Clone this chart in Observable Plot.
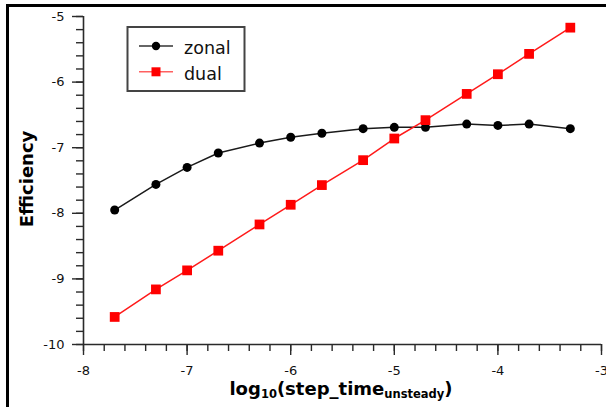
<!DOCTYPE html>
<html>
<head>
<meta charset="utf-8">
<script src="https://cdn.jsdelivr.net/npm/d3@7"></script>
<script src="https://cdn.jsdelivr.net/npm/@observablehq/plot@0.6"></script>
<style>
  html, body { margin: 0; padding: 0; background: #fff; }
  #chart { position: relative; width: 606px; height: 407px; overflow: hidden; }
  #chart svg g[aria-label$="tick label"] text { font-size: 13px; fill: #111; }
</style>
</head>
<body>
<div id="chart"></div>
<script>
// ---- data ----
const xValues = [-7.699, -7.301, -7, -6.699, -6.301, -6, -5.699, -5.301, -5, -4.699, -4.301, -4, -3.699, -3.301];
const zonalValues = [-7.95, -7.56, -7.30, -7.08, -6.93, -6.84, -6.78, -6.71, -6.69, -6.69, -6.64, -6.66, -6.64, -6.71];
const dualValues = [-9.58, -9.16, -8.87, -8.57, -8.17, -7.87, -7.57, -7.19, -6.86, -6.58, -6.18, -5.88, -5.57, -5.17];
const seriesNames = ["zonal", "dual"];
const xTicks = [-8, -7, -6, -5, -4, -3];
const yTicks = [-10, -9, -8, -7, -6, -5];
const xLabel = ["log", "10", "(step_time", "unsteady", ")"];
const yLabel = "Efficiency";

const xMinor = d3.range(0, 26).map(i => +(-8 + i * 0.2).toFixed(1));
const yMinor = d3.range(0, 26).map(i => +(-10 + i * 0.2).toFixed(1));

const zonalRows = xValues.map((x, i) => ({x, y: zonalValues[i]}));
const dualRows = xValues.map((x, i) => ({x, y: dualValues[i]}));

const axisColor = "#2a2a2a";
const font = "'DejaVu Sans', Verdana, sans-serif";

const plot = Plot.plot({
  width: 606,
  height: 407,
  marginLeft: 83,
  marginRight: 5,
  marginTop: 16,
  marginBottom: 63,
  style: {fontFamily: font, fontSize: "13px", color: "#111", background: "#fff", overflow: "hidden"},
  x: {domain: [-8, -3]},
  y: {domain: [-10, -5]},
  marks: [
    Plot.axisX(xMinor, {tickSize: 7, tickFormat: () => "", stroke: axisColor, strokeWidth: 1.4, label: null}),
    Plot.axisX(xTicks, {tickSize: 11, tickPadding: 10, stroke: axisColor, strokeWidth: 1.4, fill: "#111", fontSize: 13, label: null, tickFormat: d => d}),
    Plot.axisY(yMinor, {tickSize: 7, tickFormat: () => "", stroke: axisColor, strokeWidth: 1.4, label: null}),
    Plot.axisY(yTicks, {tickSize: 11, tickPadding: 8, stroke: axisColor, strokeWidth: 1.4, fill: "#111", fontSize: 13, label: null, tickFormat: d => d}),
    Plot.ruleY([-10], {stroke: axisColor, strokeWidth: 1.6}),
    Plot.ruleX([-8], {stroke: axisColor, strokeWidth: 1.6}),
    Plot.line(zonalRows, {x: "x", y: "y", stroke: "#1a1a1a", strokeWidth: 1.5}),
    Plot.line(dualRows, {x: "x", y: "y", stroke: "#ff1a1a", strokeWidth: 1.5}),
    Plot.dot(zonalRows, {x: "x", y: "y", r: 4.5, fill: "#000", symbol: "circle"}),
    Plot.dot(dualRows, {x: "x", y: "y", r: 5.5, fill: "#ff0000", symbol: "square"})
  ]
});

document.getElementById("chart").appendChild(plot);
const svg = d3.select(plot);

// outer frame (top-left visible)
svg.append("path")
  .attr("d", "M7.5,420 V5.5 H620")
  .attr("fill", "none")
  .attr("stroke", "#000")
  .attr("stroke-width", 3);

// y label
svg.append("text")
  .attr("transform", "translate(33,179) rotate(-90)")
  .attr("text-anchor", "middle")
  .attr("font-family", font)
  .attr("font-weight", "bold")
  .attr("font-size", 18)
  .attr("fill", "#000")
  .text(yLabel);

// x label with subscripts
const xl = svg.append("text")
  .attr("x", 341)
  .attr("y", 395)
  .attr("text-anchor", "middle")
  .attr("font-family", font)
  .attr("font-weight", "bold")
  .attr("font-size", 18)
  .attr("fill", "#000");
xl.append("tspan").text(xLabel[0]);
xl.append("tspan").attr("font-size", 11.5).attr("dy", 2.5).text(xLabel[1]);
xl.append("tspan").attr("dy", -2.5).text(xLabel[2]);
xl.append("tspan").attr("font-size", 11.5).attr("dy", 2.5).text(xLabel[3]);
xl.append("tspan").attr("dy", -2.5).text(xLabel[4]);

// legend
const lg = svg.append("g");
lg.append("rect")
  .attr("x", 127.5).attr("y", 27).attr("width", 117).attr("height", 64)
  .attr("fill", "#fff").attr("stroke", "#444").attr("stroke-width", 2);
const legendStyle = {
  zonal: {line: "#333", fill: "#000", symbol: d3.symbolCircle, size: Math.PI * 4.2 * 4.2},
  dual: {line: "#ff6060", fill: "#ff0000", symbol: d3.symbolSquare, size: 81}
};
seriesNames.forEach((name, i) => {
  const cy = 46 + i * 25.8;
  const s = legendStyle[name];
  lg.append("line").attr("x1", 139).attr("x2", 173).attr("y1", cy).attr("y2", cy)
    .attr("stroke", s.line).attr("stroke-width", 1.5);
  lg.append("path").attr("transform", `translate(156,${cy})`)
    .attr("d", d3.symbol(s.symbol, s.size)()).attr("fill", s.fill);
  lg.append("text").attr("x", 184).attr("y", cy + 8.2)
    .attr("text-anchor", "start")
    .attr("font-family", font).attr("font-size", 17.5).attr("fill", "#111")
    .text(name);
});
</script>
</body>
</html>
